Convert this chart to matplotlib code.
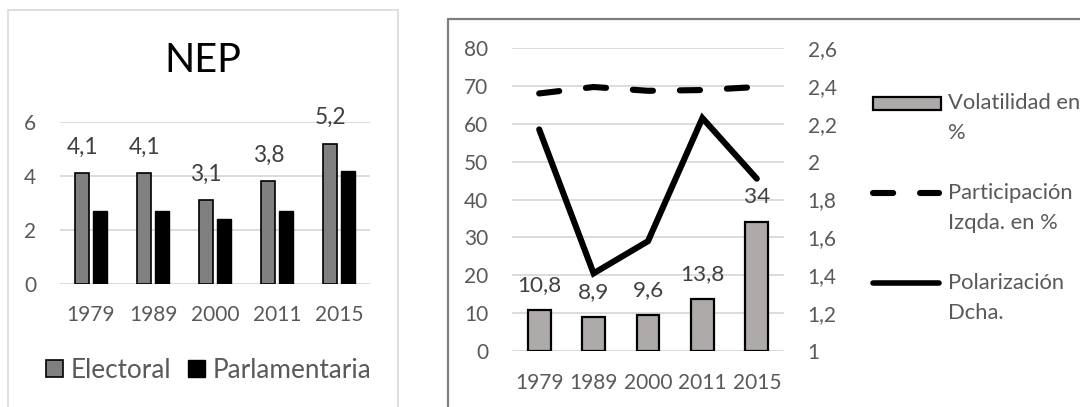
import matplotlib
matplotlib.use('Agg')
import matplotlib.pyplot as plt
from matplotlib.patches import Rectangle
from matplotlib.lines import Line2D
import numpy as np

plt.rcParams['font.family'] = ['Lato', 'DejaVu Sans']

# ---------------- data ----------------
years = ['1979', '1989', '2000', '2011', '2015']
nep_electoral = [4.1, 4.1, 3.1, 3.8, 5.2]
nep_parlamentaria = [2.7, 2.7, 2.4, 2.7, 4.2]
nep_labels = ['4,1', '4,1', '3,1', '3,8', '5,2']
nep_yticks = [0, 2, 4, 6]

volatilidad = [10.8, 8.9, 9.6, 13.8, 34]
vol_labels = ['10,8', '8,9', '9,6', '13,8', '34']
participacion = [68.0, 69.7, 68.7, 68.9, 69.7]
polarizacion = [2.17, 1.41, 1.58, 2.23, 1.91]
left_yticks = [0, 10, 20, 30, 40, 50, 60, 70, 80]
right_yticks = [1.0, 1.2, 1.4, 1.6, 1.8, 2.0, 2.2, 2.4, 2.6]
right_yticklabels = ['1', '1,2', '1,4', '1,6', '1,8', '2', '2,2', '2,4', '2,6']

legend_left = ['Electoral', 'Parlamentaria']
legend_right = [['Volatilidad en', '%'], ['Participación', 'Izqda. en %'],
                ['Polarización', 'Dcha.']]

W, H = 1080, 407
fig = plt.figure(figsize=(W / 100, H / 100), dpi=100)


def fx(px):
    return px / W


def fy(py):
    return 1 - py / H


TICK = '#595959'
LABEL = '#404040'
GRID = '#D9D9D9'
TFS = 15

# ---------------- panel borders ----------------
fig.add_artist(Rectangle((fx(8), fy(430)), fx(398) - fx(8), fy(10) - fy(430),
                         transform=fig.transFigure, fill=False,
                         ec='#D9D9D9', lw=1.2, clip_on=False))
fig.add_artist(Rectangle((fx(448), fy(430)), fx(1100) - fx(448), fy(19) - fy(430),
                         transform=fig.transFigure, fill=False,
                         ec='#7F7F7F', lw=1.6, clip_on=False))

# ---------------- left chart (NEP) ----------------
ax1 = fig.add_axes([fx(60), fy(284), fx(370) - fx(60), fy(122) - fy(284)])
x = np.arange(len(years))
bw = 0.226
b1 = ax1.bar(x - 0.14, nep_electoral, bw, color='#808080', edgecolor='black',
             linewidth=1.2, zorder=3)
b2 = ax1.bar(x + 0.14, nep_parlamentaria, bw, color='black', edgecolor='black',
             linewidth=1.0, zorder=3)
for xi, v, lab in zip(x, nep_electoral, nep_labels):
    ax1.annotate(lab, (xi - 0.14, v), xytext=(0, 19), textcoords='offset points',
                 ha='center', va='center', fontsize=16.3, color=LABEL)
ax1.set_xlim(-0.5, len(years) - 0.5)
ax1.set_ylim(0, 6)
ax1.set_yticks(nep_yticks)
ax1.set_yticklabels([str(t) for t in nep_yticks])
ax1.set_xticks(x)
ax1.set_xticklabels(years)
ax1.tick_params(axis='both', length=0, labelsize=TFS, colors=TICK)
ax1.tick_params(axis='y', pad=17)
ax1.tick_params(axis='x', pad=15)
ax1.yaxis.grid(True, color=GRID, lw=1.3, zorder=0)
ax1.set_axisbelow(True)
for s in ax1.spines.values():
    s.set_visible(False)
fig.text(fx(203), fy(60), 'NEP', ha='center', va='center', fontsize=28.5,
         color='black')
leg = ax1.legend([b1, b2], legend_left, loc='center',
                 bbox_to_anchor=(fx(209), fy(370)), bbox_transform=fig.transFigure,
                 ncol=2, frameon=False, fontsize=18.8, handlelength=0.62,
                 handleheight=0.62, handletextpad=0.32, columnspacing=0.65,
                 labelcolor=TICK, borderpad=0)

# ---------------- right chart ----------------
ax = fig.add_axes([fx(512), fy(351), fx(784) - fx(512), fy(48) - fy(351)])
ax2 = ax.twinx()
ax.bar(x, volatilidad, 0.42, color='#AEAAAA', edgecolor='black', linewidth=1.6,
       zorder=3)
for xi, v, lab in zip(x, volatilidad, vol_labels):
    ax.annotate(lab, (xi, v), xytext=(0, 18), textcoords='offset points',
                ha='center', va='center', fontsize=16.2, color=LABEL)
ax.plot(x, participacion, color='black', lw=4.4, dashes=(3.3, 4.4),
        dash_capstyle='round', solid_capstyle='round', zorder=4)
ax2.plot(x, polarizacion, color='black', lw=4.4, solid_capstyle='round',
         solid_joinstyle='miter', zorder=4)
ax.set_xlim(-0.5, len(years) - 0.5)
ax.set_ylim(0, 80)
ax.set_yticks(left_yticks)
ax.set_yticklabels([str(t) for t in left_yticks])
ax2.set_ylim(1, 2.6)
ax2.set_yticks(right_yticks)
ax2.set_yticklabels(right_yticklabels)
ax.set_xticks(x)
ax.set_xticklabels(years)
ax.tick_params(axis='both', length=0, labelsize=TFS, colors=TICK)
ax.tick_params(axis='y', pad=17)
ax.tick_params(axis='x', pad=16)
ax2.tick_params(axis='y', length=0, labelsize=TFS, colors=TICK, pad=17)
ax.yaxis.grid(True, color=GRID, lw=1.3, zorder=0)
ax.set_axisbelow(True)
for a in (ax, ax2):
    for s in a.spines.values():
        s.set_visible(False)

# ---------------- right legend (manual, Excel-style) ----------------
hy = [103, 193, 283]
fig.add_artist(Rectangle((fx(873), fy(110)), fx(941) - fx(873), fy(97) - fy(110),
                         transform=fig.transFigure, fc='#AEAAAA', ec='black',
                         lw=1.6))
fig.add_artist(Line2D([fx(873), fx(939)], [fy(hy[1])] * 2, transform=fig.transFigure,
                      color='black', lw=4.4, dashes=(3.3, 4.4),
                      dash_capstyle='round'))
fig.add_artist(Line2D([fx(873), fx(939)], [fy(hy[2])] * 2, transform=fig.transFigure,
                      color='black', lw=4.0, solid_capstyle='round'))
for yc, lines in zip(hy, legend_right):
    for k, line in enumerate(lines):
        fig.text(fx(948), fy(yc + 30 * k), line, ha='left', va='center',
                 fontsize=15.8, color=TICK)

fig.savefig('out.png', dpi=100)
